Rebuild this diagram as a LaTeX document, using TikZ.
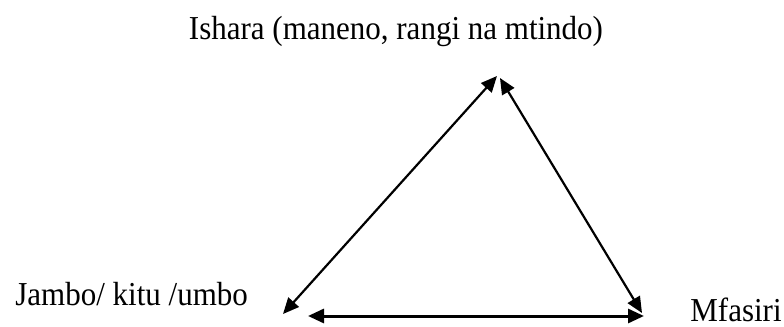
\documentclass[tikz,border=0pt]{standalone}
\usepackage{fontspec}
\setmainfont{Liberation Serif}
\usetikzlibrary{arrows.meta,positioning}

\tikzset{
  lbl/.style={inner sep=0pt,font=\fontsize{15.5}{18}\selectfont},
  link/.style={{Triangle[length=8pt,width=7pt]}-{Triangle[length=8pt,width=7pt]},line width=1.1pt}
}
\newcommand{\tallertext}[1]{\scalebox{1}[1.08]{#1}}

\begin{document}
\begin{tikzpicture}[x=0.5pt,y=-0.5pt]
\useasboundingbox (0,0) rectangle (784,327);
% labels
\node[lbl,anchor=base] (ishara) at (396,39) {\tallertext{Ishara (maneno, rangi na mtindo)}};
\node[lbl,anchor=base west] (jambo) at (15,305) {\tallertext{Jambo/ kitu /umbo}};
\node[lbl,anchor=base west] (mfasiri) at (690,321) {\tallertext{Mfasiri}};
% corners of the triangle
\coordinate (topL) at (497,76);
\coordinate (topR) at (500,78);
\coordinate (botL) at (283,314);
\coordinate (botR) at (642,313);
\coordinate (baseL) at (308,316);
\coordinate (baseR) at (644,316);
% arrows
\draw[link] (botL) -- (topL);
\draw[link] (topR) -- (botR);
\draw[link,line width=1.5pt] (baseL) -- (baseR);
\end{tikzpicture}
\end{document}
